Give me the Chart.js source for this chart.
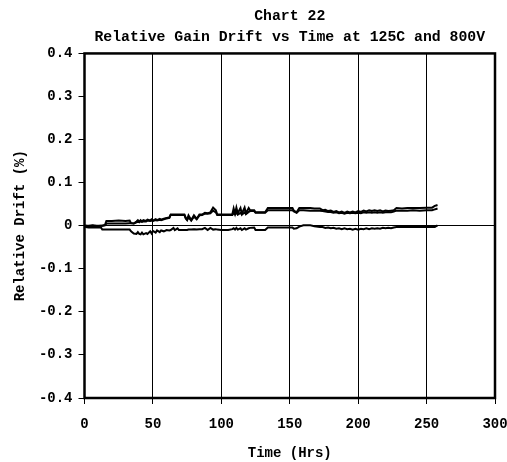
<!DOCTYPE html>
<html>
<head>
<meta charset="utf-8">
<script src="https://cdn.jsdelivr.net/npm/chart.js@4/dist/chart.umd.min.js"></script>
<style>
  html, body { margin: 0; padding: 0; background: #fff; }
  #wrap { width: 507px; height: 462px; }
</style>
</head>
<body>
<div id="wrap"><canvas id="c" width="507" height="462"></canvas></div>
<script>
const chartTitle = ['Chart 22', 'Relative Gain Drift vs Time at 125C and 800V'];
const xTitle = 'Time (Hrs)';
const yTitle = 'Relative Drift (%)';
const xTicks = [0, 50, 100, 150, 200, 250, 300];
const yTicks = [-0.4, -0.3, -0.2, -0.1, 0, 0.1, 0.2, 0.3, 0.4];

const hours = [0,1,3,6,9,12,13,15,16,20,25,30,33,34,36,38,39,40,41,42,43,45,46,48,49,50,52,53,55,56,58,60,62,63,65,66,68,69,73,74,75,76,78,80,82,84,86,88,90,92,94,96,97,100,105,108,109,110,111,112,114,115,117,118,120,121,124,125,132,134,140,148,152,153,155,157,160,165,168,172,174,176,178,180,182,184,186,188,190,192,194,196,198,200,202,204,206,208,210,212,214,216,218,220,222,224,226,228,232,236,240,245,250,254,256,257,258];

const driftA = [0,0,-0.001,0,-0.001,0,0,0.002,0.011,0.011,0.012,0.011,0.012,0.006,0.005,0.010,0.013,0.009,0.013,0.010,0.013,0.011,0.014,0.012,0.015,0.012,0.015,0.013,0.016,0.014,0.016,0.018,0.019,0.026,0.026,0.026,0.026,0.026,0.026,0.018,0.014,0.024,0.013,0.024,0.016,0.026,0.026,0.030,0.029,0.031,0.042,0.036,0.026,0.026,0.026,0.026,0.040,0.028,0.042,0.029,0.041,0.028,0.042,0.029,0.041,0.036,0.036,0.031,0.031,0.041,0.041,0.041,0.041,0.035,0.031,0.041,0.041,0.041,0.040,0.040,0.036,0.037,0.034,0.035,0.032,0.034,0.031,0.033,0.030,0.033,0.031,0.033,0.031,0.034,0.032,0.035,0.033,0.036,0.034,0.036,0.034,0.036,0.033,0.035,0.034,0.035,0.036,0.041,0.040,0.041,0.041,0.041,0.042,0.042,0.046,0.047,0.048];

const driftB = [0,0,0,0.001,0,0,0,0.001,0.005,0.005,0.005,0.005,0.006,0.006,0.005,0.008,0.009,0.008,0.010,0.009,0.010,0.010,0.012,0.011,0.012,0.011,0.013,0.012,0.014,0.013,0.015,0.017,0.018,0.025,0.025,0.025,0.025,0.025,0.025,0.017,0.013,0.020,0.012,0.021,0.015,0.024,0.025,0.028,0.028,0.029,0.035,0.031,0.025,0.025,0.025,0.025,0.029,0.026,0.031,0.026,0.030,0.026,0.031,0.027,0.032,0.034,0.034,0.030,0.030,0.036,0.036,0.036,0.036,0.033,0.030,0.036,0.036,0.035,0.035,0.035,0.034,0.033,0.032,0.032,0.030,0.031,0.029,0.030,0.028,0.030,0.029,0.030,0.029,0.030,0.029,0.031,0.030,0.031,0.030,0.031,0.030,0.031,0.030,0.031,0.031,0.031,0.033,0.035,0.035,0.035,0.036,0.035,0.036,0.036,0.038,0.039,0.040];

const driftC = [0,-0.003,-0.004,-0.004,-0.004,-0.004,-0.009,-0.009,-0.009,-0.009,-0.009,-0.009,-0.009,-0.013,-0.018,-0.019,-0.015,-0.019,-0.020,-0.016,-0.020,-0.017,-0.019,-0.013,-0.018,-0.012,-0.016,-0.011,-0.015,-0.011,-0.013,-0.010,-0.011,-0.010,-0.005,-0.010,-0.006,-0.010,-0.010,-0.010,-0.010,-0.009,-0.009,-0.008,-0.009,-0.008,-0.008,-0.005,-0.010,-0.005,-0.009,-0.008,-0.009,-0.010,-0.010,-0.008,-0.006,-0.009,-0.005,-0.009,-0.006,-0.010,-0.006,-0.009,-0.006,-0.005,-0.004,-0.010,-0.010,-0.004,-0.004,-0.004,-0.004,-0.007,-0.006,-0.002,0.001,0.001,-0.001,-0.003,-0.003,-0.005,-0.004,-0.006,-0.005,-0.007,-0.006,-0.008,-0.006,-0.008,-0.007,-0.009,-0.007,-0.009,-0.007,-0.008,-0.006,-0.008,-0.006,-0.007,-0.006,-0.007,-0.005,-0.006,-0.005,-0.006,-0.004,-0.003,-0.003,-0.003,-0.003,-0.003,-0.003,-0.003,-0.003,-0.001,0.001];

const FONT = "'Liberation Mono', 'Courier New', monospace";
Chart.defaults.font.family = FONT;
Chart.defaults.font.weight = 'bold';
Chart.defaults.color = '#000';

function toPoints(vals) { return hours.map((h, i) => ({ x: h, y: vals[i] })); }
function lineSet(label, vals) {
  return { label, data: toPoints(vals), borderColor: '#000', backgroundColor: '#000',
           borderWidth: 2, pointRadius: 0, tension: 0, fill: false };
}

const frame = {
  id: 'frame',
  afterDatasetsDraw(chart) {
    const a = chart.chartArea, ctx = chart.ctx;
    ctx.save();
    ctx.strokeStyle = '#000';
    ctx.lineWidth = 2.5;
    ctx.strokeRect(a.left, a.top, a.right - a.left, a.bottom - a.top);
    ctx.restore();
  }
};

new Chart(document.getElementById('c'), {
  type: 'line',
  data: { datasets: [lineSet('A', driftA), lineSet('B', driftB), lineSet('C', driftC)] },
  options: {
    responsive: false,
    animation: false,
    devicePixelRatio: 1,
    layout: { padding: { left: 0, right: 12, top: 0, bottom: 0 } },
    plugins: {
      legend: { display: false },
      tooltip: { enabled: false },
      title: {
        display: true, text: chartTitle, color: '#000', fullSize: false,
        font: { family: FONT, size: 14.8, weight: 'bold', lineHeight: 1.4 },
        padding: { top: 6, bottom: 6 }
      }
    },
    scales: {
      x: {
        type: 'linear', min: 0, max: 300,
        afterBuildTicks(s) { s.ticks = xTicks.map(v => ({ value: v })); },
        afterFit(s) { s.height = 64; s.paddingLeft = 0; s.paddingRight = 0; },
        ticks: { font: { size: 14, weight: 'bold' }, padding: 12, maxRotation: 0 },
        grid: { color: '#000', lineWidth: 1, tickLength: 6, tickColor: '#000' },
        border: { display: false },
        title: { display: true, text: xTitle, font: { size: 14, weight: 'bold', lineHeight: 1.2 }, padding: { top: 0, bottom: 0 } }
      },
      y: {
        min: -0.4, max: 0.4,
        afterBuildTicks(s) { s.ticks = yTicks.map(v => ({ value: v })); },
        afterFit(s) { s.width = 84.5; s.paddingTop = 0; s.paddingBottom = 0; },
        ticks: { font: { size: 14, weight: 'bold' }, padding: 6,
                 callback: v => String(Number(v.toFixed(1))) },
        grid: { color: ctx => (ctx.tick && Math.abs(ctx.tick.value) < 1e-9) ? '#000' : 'rgba(0,0,0,0)',
                lineWidth: 1, tickLength: 6, tickColor: '#000' },
        border: { display: false },
        title: { display: true, text: yTitle, font: { size: 14, weight: 'bold', lineHeight: 1.2 }, padding: { top: 12, bottom: 0 } }
      }
    }
  },
  plugins: [frame]
});
</script>
</body>
</html>
